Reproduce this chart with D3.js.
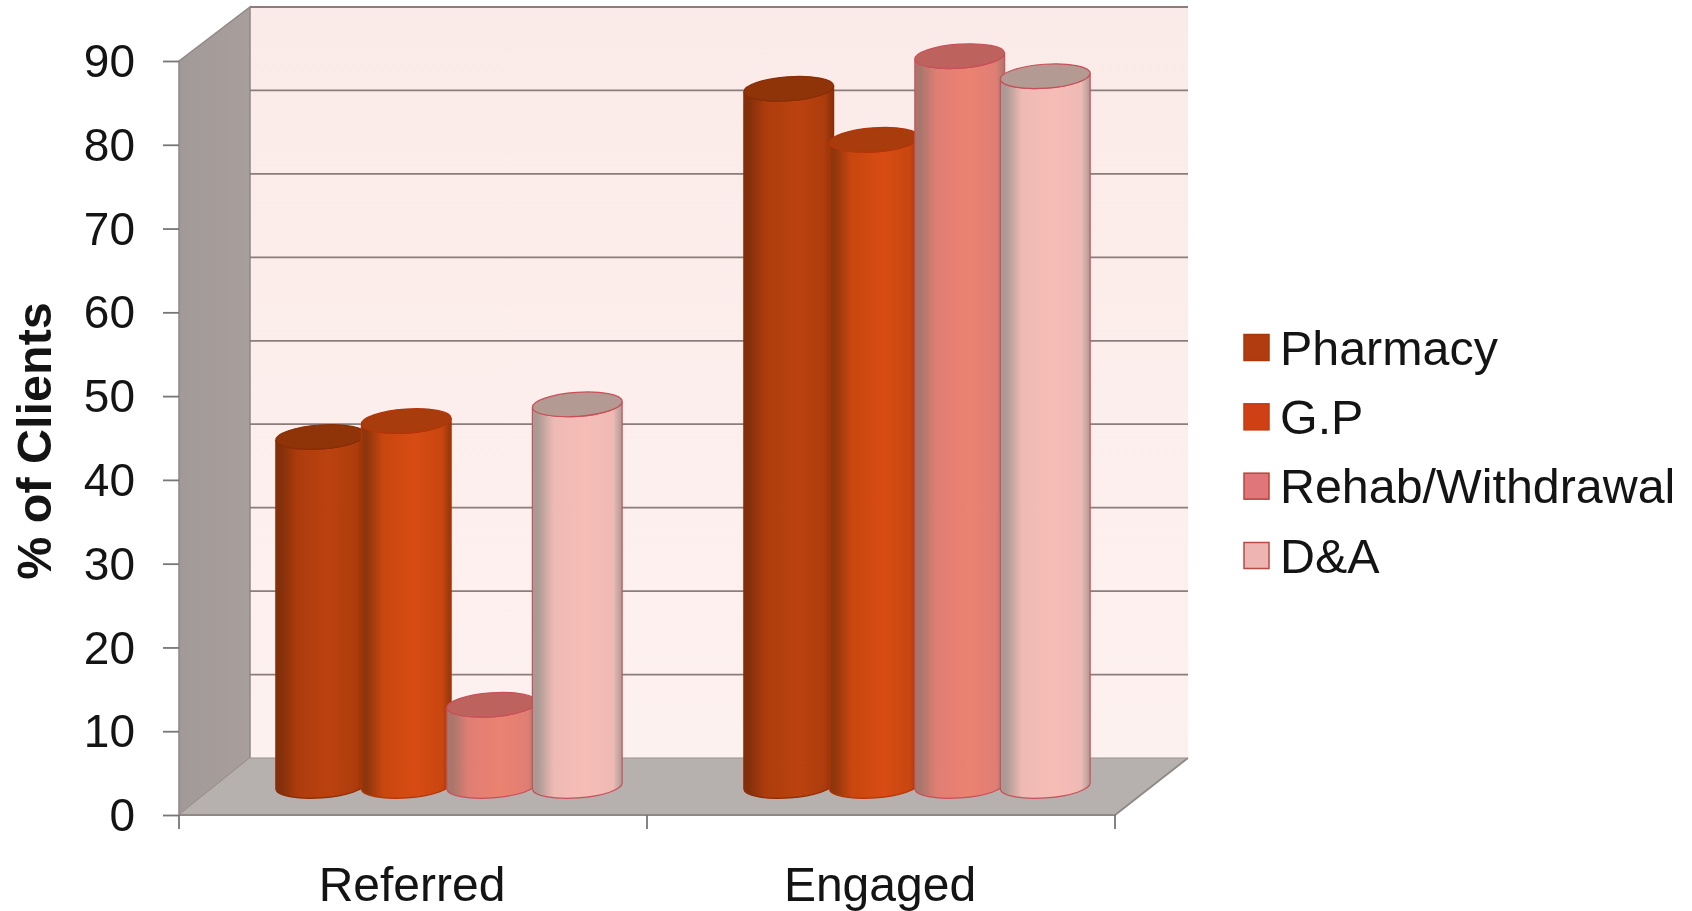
<!DOCTYPE html>
<html>
<head>
<meta charset="utf-8">
<script src="https://cdn.jsdelivr.net/npm/d3@7"></script>
<style>
html,body{margin:0;padding:0;background:#fff;overflow:hidden}
svg{filter:blur(0.5px)}
text{font-family:"Liberation Sans",Arial,sans-serif;fill:#141414}
</style>
</head>
<body>
<svg id="c" width="1692" height="911"></svg>
<script>
const categories = ["Referred", "Engaged"];
const seriesNames = ["Pharmacy", "G.P", "Rehab/Withdrawal", "D&A"];
const pharmacy = [41.7, 83.3];
const gp = [43.6, 77.2];
const rehab = [9.7, 87.2];
const dna = [45.6, 84.8];
const allSeries = [pharmacy, gp, rehab, dna];
const yTicks = [0, 10, 20, 30, 40, 50, 60, 70, 80, 90];
const yTitle = "% of Clients";

const colours = [
  {dark:"#83300a", mid:"#ad3c0d", light:"#bb420f", top:"#8e3408", edge:"#8a2c06", swatch:"#b03c10"},
  {dark:"#8f360c", mid:"#c8460f", light:"#d84c14", top:"#a93c0c", edge:"#b33408", swatch:"#cf4014"},
  {dark:"#a8766c", mid:"#e07e74", light:"#ec8270", top:"#bd625c", edge:"#c8505a", swatch:"#e0757a"},
  {dark:"#ab9a94", mid:"#efbab4", light:"#f6bdb6", top:"#b39a92", edge:"#c8505a", swatch:"#eeb4b2"}
];

const svg = d3.select("#c");
const defs = svg.append("defs");

const front = {l:179, r:1115, top:61, bottom:815};
const back = {l:250, r:1188, top:7, bottom:758};

const yFront = d3.scaleLinear().domain([0, 90]).range([front.bottom, front.top]);
const yBack = d3.scaleLinear().domain([0, 90]).range([back.bottom, back.top]);
const x0 = d3.scaleBand().domain(categories).range([front.l, front.r]);
const inner = d3.scaleBand().domain(seriesNames).range([-171, 171]);
const depthOffset = 36;
const rx = 45, ry = 12, tilt = 4;
const baseCentre = 786;
const yBar = d3.scaleLinear().domain([0, 90]).range([baseCentre, baseCentre - 90 * 8.37]);

const wallG = defs.append("linearGradient").attr("id","wall").attr("x1",0).attr("y1",0).attr("x2",0).attr("y2",1);
wallG.append("stop").attr("offset",0).attr("stop-color","#fbebe8");
wallG.append("stop").attr("offset",1).attr("stop-color","#fdf1ef");
const sideG = defs.append("linearGradient").attr("id","side").attr("x1",0).attr("y1",0).attr("x2",1).attr("y2",0);
sideG.append("stop").attr("offset",0).attr("stop-color","#a29a98");
sideG.append("stop").attr("offset",1).attr("stop-color","#a89f9d");
colours.forEach((c, i) => {
  const g = defs.append("linearGradient").attr("id","cyl"+i).attr("x1",0).attr("y1",0).attr("x2",1).attr("y2",0);
  [[0,c.dark],[0.06,c.dark],[0.24,c.mid],[0.6,c.light],[0.9,c.mid],[1,c.dark]].forEach(s =>
    g.append("stop").attr("offset",s[0]).attr("stop-color",s[1]));
});

const poly = pts => d3.line()(pts) + "Z";
svg.append("path").attr("d", poly([[back.l,back.top],[back.r,back.top],[back.r,back.bottom],[back.l,back.bottom]])).attr("fill","url(#wall)");
svg.append("path").attr("d", poly([[front.l,front.top],[back.l,back.top],[back.l,back.bottom],[front.l,front.bottom]])).attr("fill","url(#side)").attr("stroke","#8f8886").attr("stroke-width",1.5);
svg.append("path").attr("d", poly([[front.l,front.bottom],[back.l,back.bottom],[back.r,back.bottom],[front.r,front.bottom]])).attr("fill","#b6b1af");
svg.append("path").attr("d", d3.line()([[back.r,back.bottom],[front.r,front.bottom],[front.l,front.bottom]])).attr("fill","none").attr("stroke","#8f8886").attr("stroke-width",1.8);
svg.append("path").attr("d", d3.line()([[back.l,back.bottom],[back.r,back.bottom]])).attr("fill","none").attr("stroke","#9a9391").attr("stroke-width",1.2);

svg.append("g").selectAll("line").data(yTicks.slice(1)).join("line")
  .attr("x1", back.l).attr("x2", back.r)
  .attr("y1", d => yBack(d)).attr("y2", d => yBack(d))
  .attr("stroke", "#8a7d7b").attr("stroke-width", 1.8);

const yAxis = svg.append("g").attr("transform", `translate(${front.l},0)`)
  .call(d3.axisLeft(yFront).tickValues(yTicks).tickSize(16).tickPadding(28));
yAxis.select(".domain").remove();
yAxis.selectAll("line").attr("stroke","#777").attr("stroke-width",1.8);
yAxis.selectAll("text").attr("font-size",46).attr("dy","0.34em")
  .style("font-family",'"Liberation Sans",Arial,sans-serif').style("fill","#141414");

const xAxis = svg.append("g").attr("transform", `translate(0,${front.bottom})`)
  .call(d3.axisBottom(x0).tickSize(0).tickPadding(52));
xAxis.select(".domain").remove();
xAxis.selectAll("text").attr("font-size",48).attr("dy","0.71em").attr("dx",-1)
  .style("font-family",'"Liberation Sans",Arial,sans-serif').style("fill","#141414");
const boundaries = [front.l].concat(categories.map(c => x0(c) + x0.bandwidth()));
svg.append("g").selectAll("line").data(boundaries).join("line")
  .attr("x1", d => d).attr("x2", d => d)
  .attr("y1", front.bottom).attr("y2", front.bottom + 14)
  .attr("stroke","#777").attr("stroke-width",1.8);

svg.append("text").attr("transform","translate(51,441) rotate(-90)")
  .attr("text-anchor","middle").attr("font-size",48.5).attr("font-weight","bold").text(yTitle);

const rad = tilt * Math.PI / 180, ex = rx * Math.cos(rad), ey = rx * Math.sin(rad);
const barData = [];
categories.forEach((cat, ci) => seriesNames.forEach((s, si) => barData.push({cat, s, si, v: allSeries[si][ci]})));
const bars = svg.append("g").selectAll("g").data(barData).join("g")
  .attr("transform", d => `translate(${x0(d.cat) + x0.bandwidth()/2 + depthOffset + inner(d.s) + inner.bandwidth()/2},0)`);
bars.append("path")
  .attr("d", d => {
    const t = yBar(d.v), b = yBar(0);
    return `M${-ex},${t+ey}L${-ex},${b+ey}A${rx},${ry} ${-tilt} 0 0 ${ex},${b-ey}L${ex},${t-ey}A${rx},${ry} ${-tilt} 0 1 ${-ex},${t+ey}Z`;
  })
  .attr("fill", d => `url(#cyl${d.si})`)
  .attr("stroke", d => colours[d.si].edge).attr("stroke-width",1.2);
bars.append("ellipse")
  .attr("transform", d => `translate(0,${yBar(d.v)}) rotate(${-tilt})`)
  .attr("rx", rx).attr("ry", ry)
  .attr("fill", d => colours[d.si].top)
  .attr("stroke", d => colours[d.si].edge).attr("stroke-width",1.2);

const legendY = d3.scalePoint().domain(seriesNames).range([347.5, 555.5]);
const legend = svg.append("g").selectAll("g").data(seriesNames).join("g")
  .attr("transform", d => `translate(0,${legendY(d)})`);
legend.append("rect").attr("x",1244).attr("y",-13).attr("width",25).attr("height",26)
  .attr("fill",(d,i)=>colours[i].swatch).attr("stroke",(d,i)=>["#a8380e","#c53a10","#b8453a","#b84a48"][i]).attr("stroke-width",1.5);
legend.append("text").attr("x",1280).attr("y",17).attr("font-size",48.4).text(d => d);
</script>
</body>
</html>
